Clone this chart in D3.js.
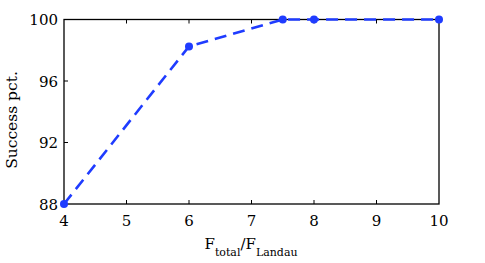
<!DOCTYPE html>
<html>
<head>
<meta charset="utf-8">
<script src="https://cdn.jsdelivr.net/npm/d3@7.9.0/dist/d3.min.js"></script>
<style>
  body { margin: 0; background: #fff; }
</style>
</head>
<body>
<svg id="chart" width="485" height="263"></svg>
<script>
// data
const ratio = [4, 6, 7.5, 8, 10];
const success = [88, 98.25, 100, 100, 100];
const xTicks = [4, 5, 6, 7, 8, 9, 10];
const yTicks = [88, 92, 96, 100];

const svg = d3.select('#chart')
  .attr('font-family', "'DejaVu Serif', serif");
const pLeft = 64, pRight = 439, pTop = 19.5, pBottom = 204;

const x = d3.scaleLinear().domain([4, 10]).range([pLeft, pRight]);
const y = d3.scaleLinear().domain([88, 100]).range([pBottom, pTop]);

// frame
svg.append('rect')
  .attr('x', pLeft).attr('y', pTop)
  .attr('width', pRight - pLeft).attr('height', pBottom - pTop)
  .attr('fill', 'none').attr('stroke', '#000').attr('stroke-width', 1.3);

// inward ticks on bottom & top, left only
xTicks.slice(1, -1).forEach(t => {
  svg.append('line').attr('x1', x(t)).attr('x2', x(t))
    .attr('y1', pBottom).attr('y2', pBottom - 4).attr('stroke', '#000').attr('stroke-width', 1);
  svg.append('line').attr('x1', x(t)).attr('x2', x(t))
    .attr('y1', pTop).attr('y2', pTop + 4).attr('stroke', '#000').attr('stroke-width', 1);
});
yTicks.slice(1, -1).forEach(t => {
  svg.append('line').attr('x1', pLeft).attr('x2', pLeft + 4)
    .attr('y1', y(t)).attr('y2', y(t)).attr('stroke', '#000').attr('stroke-width', 1);
});

// tick labels
svg.append('g').selectAll('text').data(xTicks).join('text')
  .attr('x', d => x(d)).attr('y', pBottom + 22)
  .attr('text-anchor', 'middle').attr('font-size', 15)
  .text(d => d);

svg.append('g').selectAll('text').data(yTicks).join('text')
  .attr('x', pLeft - 6).attr('y', d => y(d) + 5.5)
  .attr('text-anchor', 'end').attr('font-size', 15)
  .text(d => d);

// axis labels
const xl = svg.append('text').attr('x', 251).attr('y', 249)
  .attr('text-anchor', 'middle').attr('font-size', 15);
xl.append('tspan').text('F');
xl.append('tspan').attr('font-size', 11).attr('dy', 7).text('total');
xl.append('tspan').attr('dy', -7).text('/F');
xl.append('tspan').attr('font-size', 11).attr('dy', 7).text('Landau');

svg.append('text')
  .attr('transform', 'translate(17,120) rotate(-90)')
  .attr('text-anchor', 'middle').attr('font-size', 15.5)
  .text('Success pct.');

// series
const pts = ratio.map((r, i) => [r, success[i]]);
const line = d3.line().x(d => x(d[0])).y(d => y(d[1]));
const blue = '#1f3cff';

svg.append('path').datum(pts)
  .attr('d', line).attr('fill', 'none')
  .attr('stroke', blue).attr('stroke-width', 2.6)
  .attr('stroke-dasharray', '12,7');

svg.append('g').selectAll('circle').data(pts).join('circle')
  .attr('cx', d => x(d[0])).attr('cy', d => y(d[1]))
  .attr('r', 4).attr('fill', blue);
</script>
</body>
</html>
